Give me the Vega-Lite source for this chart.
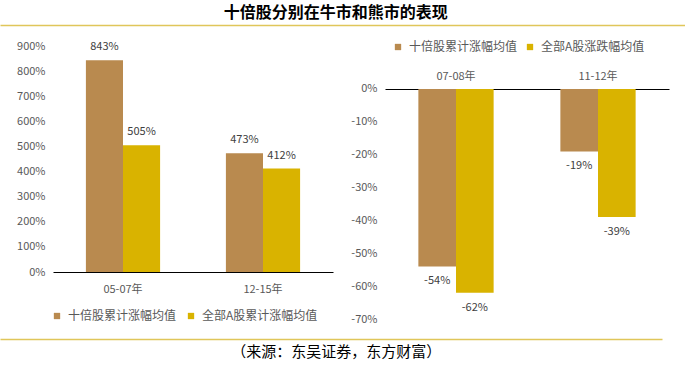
{
  "$schema": "https://vega.github.io/schema/vega-lite/v6.json",
  "padding": 0,
  "background": "white",
  "spacing": 15,
  "config": {
    "view": {"stroke": null},
    "font": "Noto Sans CJK SC",
    "axis": {"labelFont": "Noto Sans CJK SC", "labelColor": "#595959", "labelFontSize": 11}
  },
  "datasets": {
    "title": [{"t": "十倍股分别在牛市和熊市的表现"}],
    "source": [{"t": "（来源：东吴证券，东方财富）"}],
    "bull": [
      {"period": "05-07年", "series": "十倍股累计涨幅均值", "value": 8.43},
      {"period": "05-07年", "series": "全部A股累计涨幅均值", "value": 5.05},
      {"period": "12-15年", "series": "十倍股累计涨幅均值", "value": 4.73},
      {"period": "12-15年", "series": "全部A股累计涨幅均值", "value": 4.12}
    ],
    "bear": [
      {"period": "07-08年", "series": "十倍股累计涨幅均值", "value": -0.54},
      {"period": "07-08年", "series": "全部A股涨跌幅均值", "value": -0.62},
      {"period": "11-12年", "series": "十倍股累计涨幅均值", "value": -0.19},
      {"period": "11-12年", "series": "全部A股涨跌幅均值", "value": -0.39}
    ]
  },
  "vconcat": [
    {
      "width": 685,
      "height": 25,
      "data": {"name": "title"},
      "mark": {"type": "text", "fontSize": 16, "fontWeight": "bold", "color": "#000000", "font": "Noto Sans CJK SC"},
      "encoding": {
        "x": {"datum": 0.49, "type": "quantitative", "scale": {"domain": [0, 1]},
              "axis": {"domainColor": "#E0C65A", "domainWidth": 1.5, "ticks": false, "labels": false, "grid": false, "title": null}},
        "text": {"field": "t"}
      }
    },
    {
      "spacing": 52,
      "bounds": "flush",
      "resolve": {"scale": {"color": "independent", "x": "independent", "y": "independent", "xOffset": "independent"}, "legend": {"color": "independent"}},
      "hconcat": [
        {
          "width": 1,
          "height": 10,
          "data": {"values": []},
          "mark": "point"
        },
        {
          "width": 280,
          "height": 226,
          "data": {"name": "bull"},
          "encoding": {
            "x": {"field": "period", "type": "nominal", "sort": null,
                  "scale": {"paddingInner": 0.47, "paddingOuter": 0.235},
                  "axis": {"title": null, "labelAngle": 0, "ticks": false, "tickSize": 0, "domainColor": "#000000", "domainWidth": 1, "labelPadding": 11}},
            "xOffset": {"field": "series", "type": "nominal", "scale": {"domain": ["十倍股累计涨幅均值", "全部A股累计涨幅均值"], "paddingInner": 0, "paddingOuter": 0}},
            "y": {"field": "value", "type": "quantitative",
                  "scale": {"domain": [0, 9], "nice": false},
                  "axis": {"values": [0, 1, 2, 3, 4, 5, 6, 7, 8, 9], "format": ".0%", "grid": false, "domain": false, "ticks": false, "tickSize": 0, "labelPadding": 8, "title": null}}
          },
          "layer": [
            {
              "mark": {"type": "bar"},
              "encoding": {
                "color": {"field": "series", "type": "nominal",
                          "scale": {"domain": ["十倍股累计涨幅均值", "全部A股累计涨幅均值"], "range": ["#B98A4F", "#D9B300"]},
                          "legend": {"orient": "none", "legendX": -2, "legendY": 264, "direction": "horizontal", "title": null,
                                     "symbolType": "square", "symbolSize": 40, "symbolStrokeWidth": 0, "labelFontSize": 12, "labelColor": "#595959",
                                     "labelFont": "Noto Sans CJK SC", "labelOffset": 5, "columnPadding": 8}}
              }
            },
            {
              "mark": {"type": "text", "baseline": "middle", "dy": -13, "fontSize": 11, "color": "#404040", "font": "Noto Sans CJK SC"},
              "encoding": {"text": {"field": "value", "type": "quantitative", "format": ".0%"}}
            }
          ]
        },
        {
          "width": 284,
          "height": 273,
          "data": {"name": "bear"},
          "encoding": {
            "x": {"field": "period", "type": "nominal", "sort": null,
                  "scale": {"paddingInner": 0.47, "paddingOuter": 0.235},
                  "axis": {"orient": "top", "offset": -43, "title": null, "labelAngle": 0, "ticks": false, "tickSize": 0, "domainColor": "#000000", "domainWidth": 1, "labelPadding": 8}},
            "xOffset": {"field": "series", "type": "nominal", "scale": {"domain": ["十倍股累计涨幅均值", "全部A股涨跌幅均值"], "paddingInner": 0, "paddingOuter": 0}},
            "y": {"field": "value", "type": "quantitative",
                  "scale": {"domain": [-0.7, 0.1307], "nice": false, "zero": false},
                  "axis": {"values": [0, -0.1, -0.2, -0.3, -0.4, -0.5, -0.6, -0.7], "format": ".0%", "labelExpr": "replace(datum.label, '−', '-')",
                           "grid": false, "domain": false, "ticks": false, "tickSize": 0, "labelPadding": 8, "title": null}}
          },
          "layer": [
            {
              "mark": {"type": "bar"},
              "encoding": {
                "color": {"field": "series", "type": "nominal",
                          "scale": {"domain": ["十倍股累计涨幅均值", "全部A股涨跌幅均值"], "range": ["#B98A4F", "#D9B300"]},
                          "legend": {"orient": "none", "legendX": 7, "legendY": -5, "direction": "horizontal", "title": null,
                                     "symbolType": "square", "symbolSize": 40, "symbolStrokeWidth": 0, "labelFontSize": 12, "labelColor": "#595959",
                                     "labelFont": "Noto Sans CJK SC", "labelOffset": 5, "columnPadding": 6}}
              }
            },
            {
              "mark": {"type": "text", "baseline": "middle", "dy": 15, "fontSize": 11, "color": "#404040", "font": "Noto Sans CJK SC",
                       "text": {"expr": "replace(format(datum.value, '.0%'), '−', '-')"}}
            }
          ]
        }
      ]
    },
    {
      "width": 662,
      "height": 26,
      "data": {"name": "source"},
      "mark": {"type": "text", "fontSize": 15, "color": "#000000", "font": "Noto Sans CJK SC"},
      "encoding": {
        "x": {"datum": 0.508, "type": "quantitative", "scale": {"domain": [0, 1]},
              "axis": {"orient": "top", "domainColor": "#E0C65A", "domainWidth": 1.5, "ticks": false, "labels": false, "grid": false, "title": null}},
        "text": {"field": "t"}
      }
    }
  ]
}
